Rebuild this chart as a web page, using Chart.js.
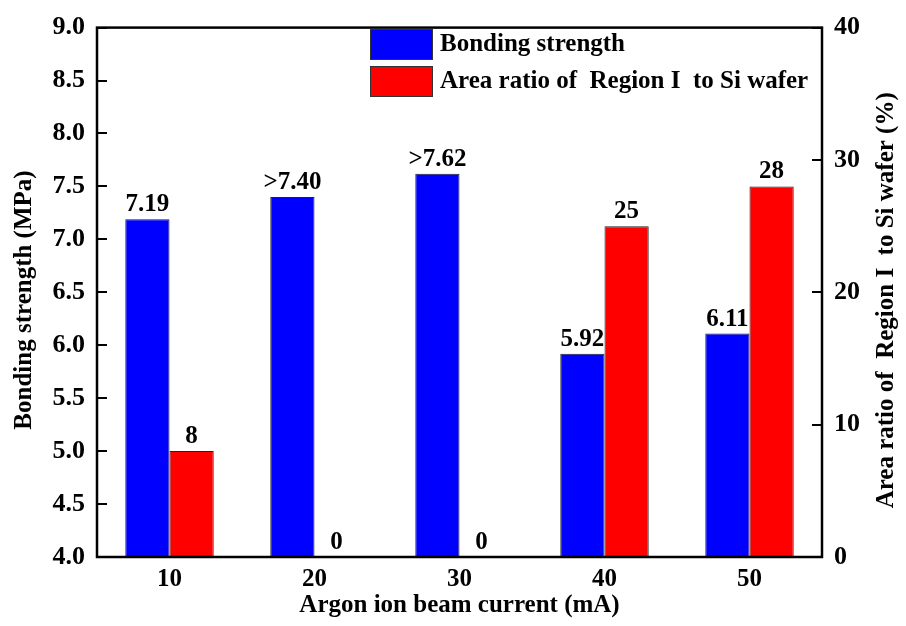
<!DOCTYPE html>
<html>
<head>
<meta charset="utf-8">
<script src="https://cdn.jsdelivr.net/npm/chart.js@4/dist/chart.umd.min.js"></script>
<style>
  html, body { margin: 0; padding: 0; background: #fff; }
  #wrap { width: 906px; height: 626px; }
</style>
</head>
<body>
<div id="wrap"><canvas id="c"></canvas></div>
<script>
// Данные графика
const currents = ['10', '20', '30', '40', '50'];
const strength = [7.19, 7.40, 7.62, 5.92, 6.11];
const strengthLabels = ['7.19', '>7.40', '>7.62', '5.92', '6.11'];
const areaRatio = [8, 0, 0, 25, 28];
const areaLabels = ['8', '0', '0', '25', '28'];
const leftTicks = [4.0, 4.5, 5.0, 5.5, 6.0, 6.5, 7.0, 7.5, 8.0, 8.5, 9.0];
const rightTicks = [0, 10, 20, 30, 40];

const FONT = '"Liberation Serif", "Times New Roman", serif';

// Рамка, внутренние засечки, подписи осей, легенда и подписи значений
const decor = {
    id: 'decor',
    afterDatasetsDraw(chart) {
        const ctx = chart.ctx;
        const a = chart.chartArea;
        const yL = chart.scales.y;
        const yR = chart.scales.y1;
        ctx.save();

        // подписи над столбцами
        ctx.fillStyle = '#000';
        ctx.font = 'bold 25px ' + FONT;
        ctx.textAlign = 'center';
        ctx.textBaseline = 'alphabetic';
        [[0, strengthLabels], [1, areaLabels]].forEach(([i, labels]) => {
            chart.getDatasetMeta(i).data.forEach((bar, j) => {
                ctx.fillText(labels[j], bar.x, bar.y - 8);
            });
        });

        // рамка
        ctx.strokeStyle = '#000';
        ctx.lineWidth = 2.5;
        ctx.strokeRect(a.left, a.top, a.right - a.left, a.bottom - a.top);

        // засечки внутрь
        ctx.lineWidth = 2;
        ctx.beginPath();
        leftTicks.forEach(v => {
            const p = Math.round(yL.getPixelForValue(v));
            ctx.moveTo(a.left, p);
            ctx.lineTo(a.left + 10, p);
        });
        rightTicks.forEach(v => {
            const p = Math.round(yR.getPixelForValue(v));
            ctx.moveTo(a.right, p);
            ctx.lineTo(a.right - 10, p);
        });
        ctx.stroke();

        // названия осей
        ctx.font = 'bold 25px ' + FONT;
        ctx.textAlign = 'center';
        ctx.textBaseline = 'middle';
        ctx.fillText('Argon ion beam current (mA)', (a.left + a.right) / 2, 606);
        const mid = (a.top + a.bottom) / 2;
        ctx.save();
        ctx.translate(25, 300);
        ctx.rotate(-Math.PI / 2);
        ctx.fillText('Bonding strength (MPa)', 0, 0);
        ctx.restore();
        ctx.save();
        ctx.translate(887, mid + 8);
        ctx.rotate(-Math.PI / 2);
        ctx.fillText('Area ratio of  Region I  to Si wafer (%)', 0, 0);
        ctx.restore();

        // легенда
        const items = [
            { text: 'Bonding strength', color: '#0000ff', y: 29 },
            { text: 'Area ratio of  Region I  to Si wafer', color: '#ff0000', y: 66 }
        ];
        ctx.font = 'bold 25px ' + FONT;
        ctx.textAlign = 'left';
        items.forEach(it => {
            ctx.fillStyle = it.color;
            ctx.fillRect(370, it.y, 62, 30);
            ctx.strokeStyle = '#333';
            ctx.lineWidth = 1;
            ctx.strokeRect(370.5, it.y + 0.5, 62, 30);
            ctx.fillStyle = '#000';
            ctx.fillText(it.text, 440, it.y + 16);
        });

        ctx.restore();
    }
};

new Chart(document.getElementById('c'), {
    type: 'bar',
    data: {
        labels: currents,
        datasets: [{
            label: 'Bonding strength',
            data: strength,
            yAxisID: 'y',
            backgroundColor: '#0000ff',
            borderColor: '#222',
            borderWidth: 1,
            borderSkipped: 'bottom',
            categoryPercentage: 0.61,
            barPercentage: 1.0
        }, {
            label: 'Area ratio of  Region I  to Si wafer',
            data: areaRatio,
            yAxisID: 'y1',
            backgroundColor: '#ff0000',
            borderColor: '#222',
            borderWidth: ctx => (ctx.raw === 0 ? 0 : 1),
            borderSkipped: 'bottom',
            categoryPercentage: 0.61,
            barPercentage: 1.0
        }]
    },
    options: {
        responsive: true,
        maintainAspectRatio: false,
        animation: false,
        layout: { padding: { top: 22, right: 0, bottom: 0, left: 0 } },
        plugins: {
            legend: { display: false },
            tooltip: { enabled: false }
        },
        scales: {
            x: {
                grid: { display: false, drawTicks: false },
                border: { display: false },
                ticks: {
                    color: '#000',
                    font: { family: FONT, weight: 'bold', size: 25 },
                    padding: 8
                },
                afterFit(s) { s.height = 69; }
            },
            y: {
                position: 'left',
                min: 4,
                max: 9,
                grid: { display: false, drawTicks: false },
                border: { display: false },
                ticks: {
                    stepSize: 0.5,
                    color: '#000',
                    padding: 12,
                    font: { family: FONT, weight: 'bold', size: 26 },
                    callback: v => v.toFixed(1)
                },
                afterFit(s) { s.width = 97; }
            },
            y1: {
                position: 'right',
                min: 0,
                max: 40,
                grid: { display: false, drawTicks: false },
                border: { display: false },
                ticks: {
                    stepSize: 10,
                    color: '#000',
                    padding: 12,
                    font: { family: FONT, weight: 'bold', size: 26 }
                },
                afterFit(s) { s.width = 84; }
            }
        }
    },
    plugins: [decor]
});
</script>
</body>
</html>
